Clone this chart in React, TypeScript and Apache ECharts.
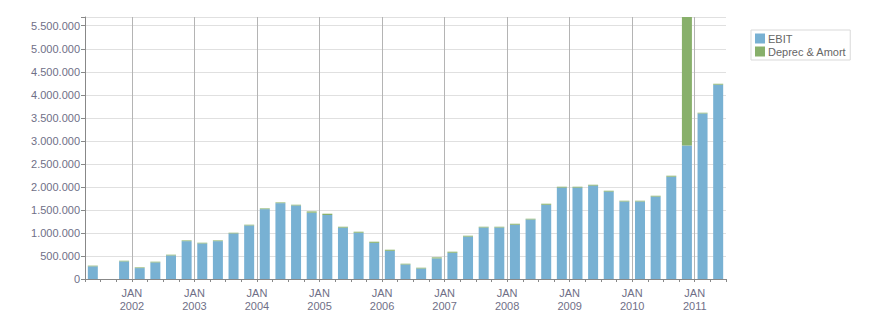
import React, { useEffect, useRef } from "react";
import * as echarts from "echarts";

const quarters = [
  "2001Q2", "2001Q3", "2001Q4",
  "2002Q1", "2002Q2", "2002Q3", "2002Q4",
  "2003Q1", "2003Q2", "2003Q3", "2003Q4",
  "2004Q1", "2004Q2", "2004Q3", "2004Q4",
  "2005Q1", "2005Q2", "2005Q3", "2005Q4",
  "2006Q1", "2006Q2", "2006Q3", "2006Q4",
  "2007Q1", "2007Q2", "2007Q3", "2007Q4",
  "2008Q1", "2008Q2", "2008Q3", "2008Q4",
  "2009Q1", "2009Q2", "2009Q3", "2009Q4",
  "2010Q1", "2010Q2", "2010Q3", "2010Q4",
  "2011Q1", "2011Q2",
];

const ebit = [
  275000, null, 382000,
  237000, 360000, 512000, 822000,
  772000, 822000, 990000, 1163000,
  1517000, 1647000, 1597000, 1440000,
  1390000, 1115000, 1005000, 785000,
  612000, 315000, 228000, 447000,
  570000, 920000, 1118000, 1118000,
  1180000, 1292000, 1612000, 1985000,
  1985000, 2028000, 1898000, 1683000,
  1683000, 1790000, 2222000, 2900000,
  3595000, 4220000,
];

const deprecAmort = [
  15000, null, 15000,
  15000, 16000, 16000, 16000,
  16000, 16000, 15000, 16000,
  16000, 16000, 16000, 28000,
  28000, 20000, 22000, 25000,
  24000, 17000, 17000, 23000,
  23000, 20000, 17000, 17000,
  21000, 17000, 23000, 19000,
  19000, 19000, 19000, 17000,
  17000, 18000, 21000, 2790000,
  16000, 20000,
];

const yearLines = [2002, 2003, 2004, 2005, 2006, 2007, 2008, 2009, 2010, 2011];

// time range of the axis in fractional years (Apr 2001 .. Jul 2011)
const xMin = 2001.25;
const xMax = 2011.5;

const FONT = "Liberation Sans, Arial, sans-serif";
const TEXT = "#6f6f87";

function fmtDots(v: number): string {
  return String(Math.round(v)).replace(/\B(?=(\d{3})+(?!\d))/g, ".");
}

export default function App() {
  const ref = useRef<HTMLDivElement>(null);
  useEffect(() => {
    if (!ref.current) return;
    const chart = echarts.init(ref.current, undefined, { renderer: "svg" });
    chart.setOption({
      animation: false,
      backgroundColor: "#ffffff",
      grid: { left: 85, top: 17, width: 641, height: 262, containLabel: false },
      legend: {
        data: ["EBIT", "Deprec & Amort"],
        orient: "vertical",
        left: 751,
        top: 30,
        padding: [3, 4, 3, 4],
        itemWidth: 10,
        itemHeight: 10,
        itemGap: 2,
        borderColor: "#d9d9d9",
        borderWidth: 1,
        icon: "rect",
        textStyle: { fontFamily: FONT, fontSize: 11, color: "#666666", padding: [0, 0, 0, -2] },
      },
      xAxis: [
        {
          type: "value",
          min: xMin,
          max: xMax,
          interval: 0.25,
          axisLine: { show: true, lineStyle: { color: "#888888", width: 1 } },
          axisTick: { show: true, length: 3, lineStyle: { color: "#888888" } },
          splitLine: { show: false },
          axisLabel: {
            margin: 7,
            fontFamily: FONT,
            fontSize: 11,
            color: TEXT,
            lineHeight: 13,
            formatter: (v: number) =>
              Math.abs(v - Math.round(v)) < 1e-6 ? "JAN\n" + Math.round(v) : "",
          },
        },
        {
          type: "category",
          data: quarters,
          boundaryGap: true,
          show: false,
          position: "bottom",
        },
      ],
      yAxis: {
        type: "value",
        min: 0,
        max: "dataMax",
        interval: 500000,
        axisLine: { show: true, lineStyle: { color: "#888888", width: 1 } },
        axisTick: { show: true, length: 4, lineStyle: { color: "#888888" } },
        splitLine: { show: true, lineStyle: { color: "#e0e0e0", width: 1 } },
        axisLabel: {
          margin: 5,
          fontFamily: FONT,
          fontSize: 11,
          color: TEXT,
          formatter: (v: number) => (v % 500000 === 0 ? fmtDots(v) : ""),
        },
      },
      series: [
        {
          name: "years",
          type: "line",
          xAxisIndex: 0,
          data: [],
          silent: true,
          markLine: {
            silent: true,
            symbol: "none",
            label: { show: false },
            lineStyle: { color: "#b4b4b4", type: "solid", width: 1 },
            data: yearLines.map((y) => ({ xAxis: y })),
          },
        },
        {
          name: "EBIT",
          type: "bar",
          xAxisIndex: 1,
          stack: "total",
          barWidth: 10,
          itemStyle: { color: "#78b1d3" },
          data: ebit,
        },
        {
          name: "Deprec & Amort",
          type: "bar",
          xAxisIndex: 1,
          stack: "total",
          barWidth: 10,
          itemStyle: { color: "#88b06b" },
          data: deprecAmort,
        },
      ],
    });
    return () => chart.dispose();
  }, []);
  return (
    <div
      ref={ref}
      style={{ position: "fixed", left: 0, top: 0, width: 876, height: 313, background: "#fff" }}
    />
  );
}
